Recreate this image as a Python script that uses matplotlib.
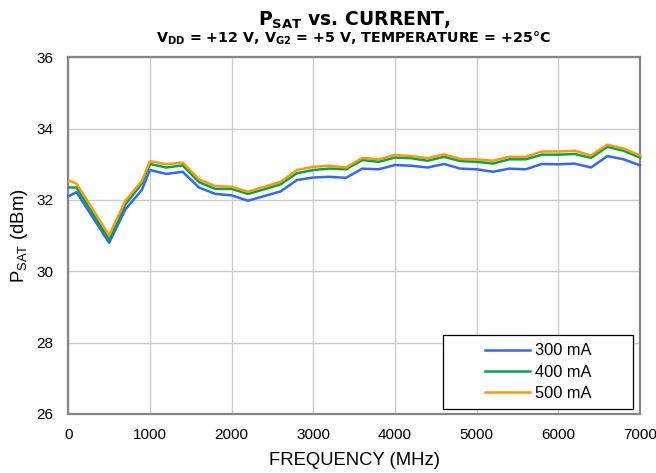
import matplotlib
matplotlib.use("Agg")
import matplotlib.pyplot as plt
from matplotlib.patches import Rectangle

plt.rcParams['font.family'] = ['Liberation Sans', 'DejaVu Sans']
plt.rcParams['mathtext.fontset'] = 'custom'
plt.rcParams['mathtext.rm'] = 'Liberation Sans'
plt.rcParams['mathtext.bf'] = 'DejaVu Sans:bold'

freq_mhz = [10, 100, 500, 700, 900, 1000, 1200, 1400, 1600, 1800, 2000,
            2200, 2400, 2600, 2800, 3000, 3200, 3400, 3600, 3800, 4000,
            4200, 4400, 4600, 4800, 5000, 5200, 5400, 5600, 5800, 6000,
            6200, 6400, 6600, 6800, 7000]

psat_300ma = [32.11, 32.22, 30.80, 31.74, 32.28, 32.84, 32.73, 32.79, 32.35, 32.17, 32.13,
              31.98, 32.11, 32.24, 32.56, 32.63, 32.65, 32.62, 32.88, 32.86, 32.98,
              32.96, 32.91, 33.01, 32.88, 32.86, 32.79, 32.88, 32.86, 33.01, 33.00,
              33.02, 32.91, 33.23, 33.14, 32.97]
psat_400ma = [32.35, 32.35, 30.89, 31.88, 32.46, 33.01, 32.91, 32.97, 32.50, 32.31, 32.31,
              32.17, 32.30, 32.44, 32.75, 32.84, 32.88, 32.86, 33.12, 33.07, 33.19,
              33.17, 33.10, 33.21, 33.09, 33.07, 33.02, 33.14, 33.14, 33.27, 33.27,
              33.29, 33.18, 33.49, 33.38, 33.19]
psat_500ma = [32.54, 32.46, 31.01, 31.98, 32.53, 33.09, 33.00, 33.05, 32.58, 32.39, 32.37,
              32.23, 32.37, 32.51, 32.84, 32.93, 32.96, 32.91, 33.18, 33.14, 33.26,
              33.23, 33.17, 33.28, 33.15, 33.14, 33.10, 33.21, 33.21, 33.36, 33.36,
              33.38, 33.25, 33.55, 33.44, 33.25]

series_labels = ['300 mA', '400 mA', '500 mA']
series_colors = ['#3366ff', '#00a550', '#ff9900']

x_ticks = [0, 1000, 2000, 3000, 4000, 5000, 6000, 7000]
y_ticks = [26, 28, 30, 32, 34, 36]

fig = plt.figure(figsize=(6.56, 4.73), dpi=100)
ax = fig.add_axes([68.3 / 656, 1 - 414 / 473, (640 - 68.3) / 656, (414 - 57.3) / 473])

for ys, lab, col in zip([psat_300ma, psat_400ma, psat_500ma], series_labels, series_colors):
    ax.plot(freq_mhz, ys, color=col, lw=1.8, label=lab, zorder=3, clip_on=False)

ax.set_xlim(0, 7000)
ax.set_ylim(26, 36)
ax.set_xticks(x_ticks)
ax.set_yticks(y_ticks)
ax.grid(True, color='#cccccc', lw=1.0, zorder=0)
ax.set_axisbelow(True)
ax.tick_params(length=0, labelsize=11, colors='black')
ax.tick_params(axis='y', pad=11)
ax.tick_params(axis='x', pad=10)
for sp in ax.spines.values():
    sp.set_color('#858585')
    sp.set_linewidth(1.6)

ax.set_xlabel('FREQUENCY (MHz)', fontsize=13.3, labelpad=7)
ax.set_ylabel(r'P$_{\mathrm{SAT}}$ (dBm)', fontsize=13.3, labelpad=4)

title_font = {'family': 'DejaVu Sans', 'weight': 'bold'}
fig.text(354 / 656, 1 - 25.7 / 473, r'$\mathbf{P_{SAT}}$ vs. CURRENT,',
         ha='center', va='baseline', fontsize=13.5, fontdict=title_font)
fig.text(354 / 656, 1 - 42.7 / 473,
         r'$\mathbf{V_{DD}}$ = +12 V, $\mathbf{V_{G2}}$ = +5 V, TEMPERATURE = +25°C',
         ha='center', va='baseline', fontsize=10.3, fontdict=title_font)

# legend frame drawn as its own box, entries placed inside it
box_x0, box_x1 = (443 - 68.3) / 571.7, (633 - 68.3) / 571.7
box_y0, box_y1 = (414 - 409) / 356.7, (414 - 335) / 356.7
ax.add_patch(Rectangle((box_x0, box_y0), box_x1 - box_x0, box_y1 - box_y0,
                       transform=ax.transAxes, facecolor='white', edgecolor='black',
                       lw=0.9, zorder=4))
leg = ax.legend(loc='center left', bbox_to_anchor=((485 - 68.3) / 571.7, (414 - 372) / 356.7),
                frameon=False, fontsize=11.8, handlelength=2.75, handletextpad=0.3,
                labelspacing=0.38, borderpad=0, borderaxespad=0)
leg.set_zorder(5)

fig.savefig('out.png', dpi=100)
